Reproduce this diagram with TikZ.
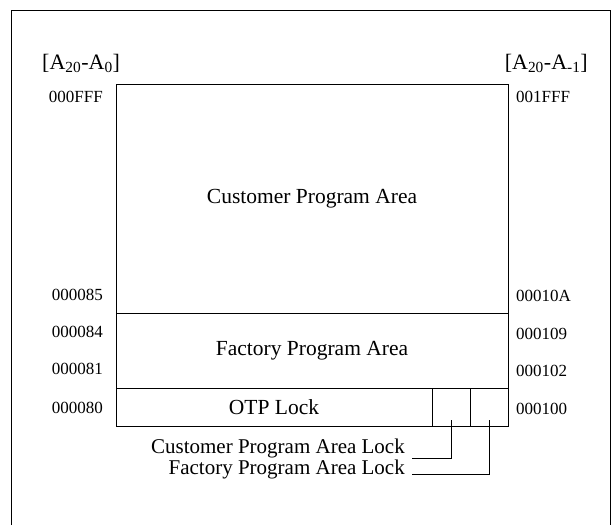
\documentclass[tikz,border=0pt]{standalone}
\usepackage{fontspec}
\setmainfont{Liberation Serif}
\usetikzlibrary{positioning}
\tikzstyle{memArea} = [draw, rectangle, line width=0.9pt, inner sep=0pt, outer sep=0pt,
	font=\fontsize{21.5}{25}\selectfont]
\tikzstyle{lockCell} = [draw, rectangle, line width=0.9pt, inner sep=0pt, outer sep=0pt,
	minimum width=38pt, minimum height=38pt]
\tikzstyle{addrLeft} = [anchor=east, inner sep=0pt, font=\fontsize{17}{20}\selectfont]
\tikzstyle{addrRight} = [anchor=west, inner sep=0pt, font=\fontsize{17}{20}\selectfont]
\tikzstyle{addrHead} = [inner sep=0pt, font=\fontsize{22}{26}\selectfont]
\tikzstyle{lockText} = [inner xsep=7pt, inner ysep=0pt, text height=13pt, text depth=4pt,
	anchor=base east, font=\fontsize{21}{25}\selectfont]

\begin{document}
\begin{tikzpicture}[x=1pt, y=-1pt, node distance=0pt]
		\useasboundingbox (0,0) rectangle (613,525);
		\draw[line width=0.8pt] (11,525) -- (11,10) -- (610,10) -- (610,525); % Rahmen
		
		\node[memArea, minimum width=392pt, minimum height=229pt, anchor=north west] (cust) at (116,84) {Customer Program Area};
		\node[memArea, minimum width=392pt, minimum height=75pt, below=of cust] (fact) {Factory Program Area};
		\node[memArea, minimum width=316pt, minimum height=38pt, anchor=north west] (otp) at (fact.south west) {OTP Lock};
		\node[lockCell, right=of otp] (custlock) {};	% Lock-Bit Kunde
		\node[lockCell, right=of custlock] (factlock) {};	% Lock-Bit Fabrik
		
		% Adressbreite
		\node[addrHead, anchor=base west] (headLo) at (42,69) {[A\textsubscript{20}-A\textsubscript{0}]};
		\node[addrHead, anchor=base east] (headHi) at (588,69) {[A\textsubscript{20}-A\textsubscript{-1}]};
		
		% Adressen links
		\node[addrLeft] (lo0FFF) at (103,97) {000FFF};
		\node[addrLeft] (lo085) at (103,295) {000085};
		\node[addrLeft] (lo084) at (103,332) {000084};
		\node[addrLeft] (lo081) at (103,369) {000081};
		\node[addrLeft] (lo080) at (103,408) {000080};
		
		% Adressen rechts
		\node[addrRight] (hi1FFF) at (516,97) {001FFF};
		\node[addrRight] (hi10A) at (516,296) {00010A};
		\node[addrRight] (hi109) at (516,334) {000109};
		\node[addrRight] (hi102) at (516,371) {000102};
		\node[addrRight] (hi100) at (516,409) {000100};
		
		\node[lockText] (custlockTxt) at (412,453) {Customer Program Area Lock};
		\node[lockText] (factlockTxt) at (412,474) {Factory Program Area Lock};
		
		\draw[line width=0.9pt] ([yshift=6pt]custlock.south) |- ([yshift=-5pt]custlockTxt.base east);
		\draw[line width=0.9pt] ([yshift=6pt]factlock.south) |- (factlockTxt.base east);
		
\end{tikzpicture}
\end{document}
